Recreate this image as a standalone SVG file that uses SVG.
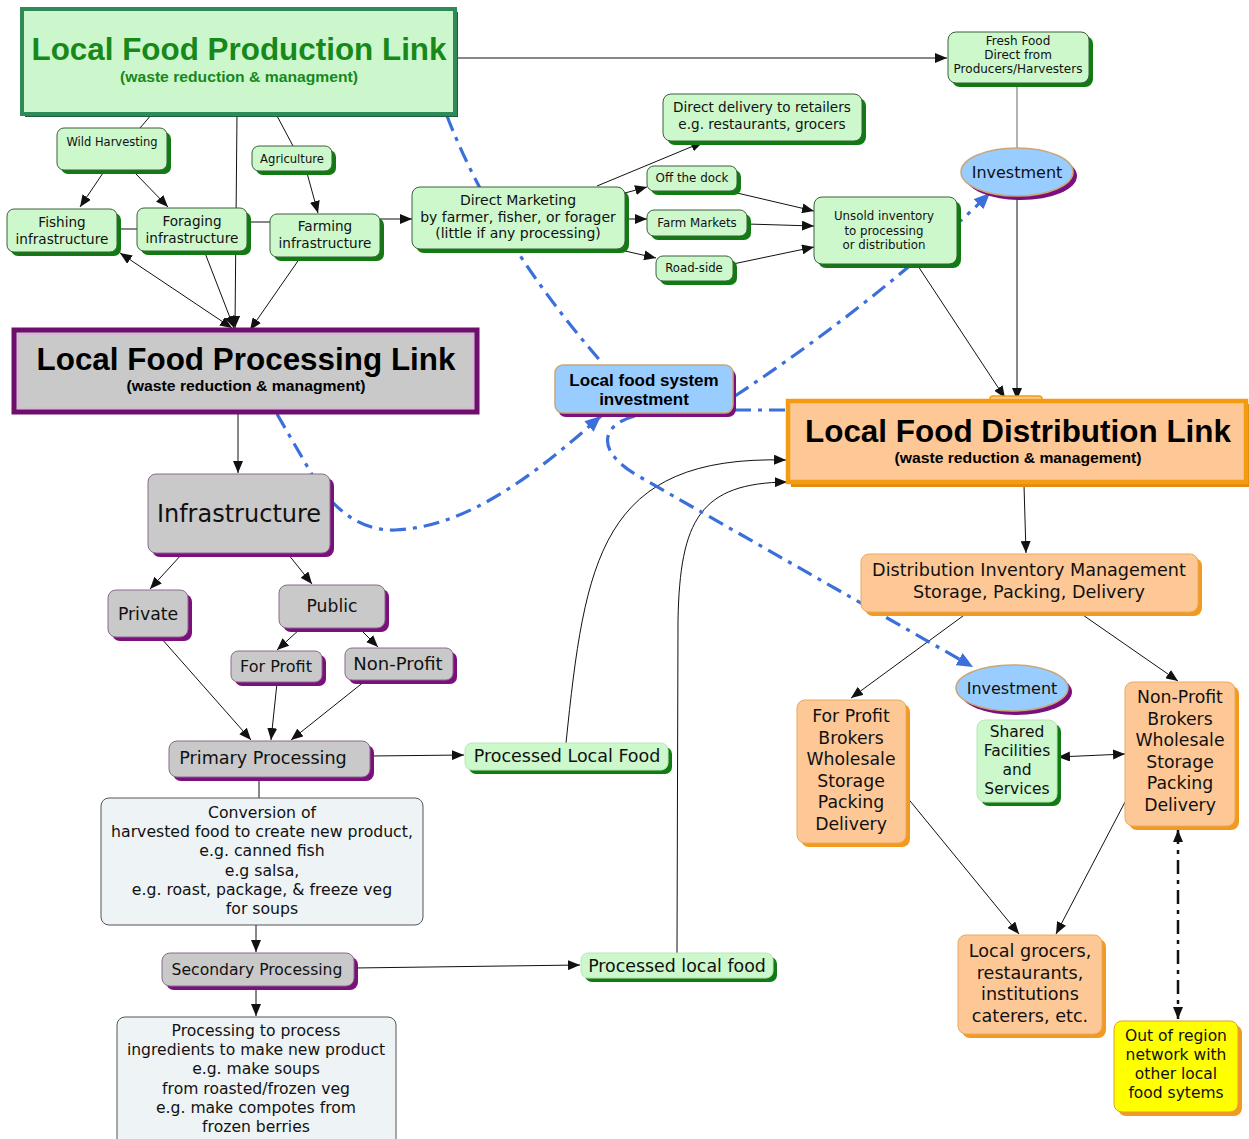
<svg xmlns="http://www.w3.org/2000/svg" width="1249" height="1139" viewBox="0 0 1249 1139">
<defs>
<style>
.sg{fill:#127a12}
.ng{fill:#ccf8cc;stroke:#3d5e3d;stroke-width:1}
.sp{fill:#7b0f7b}
.np{fill:#c9c9c9;stroke:#8a6a8a;stroke-width:1}
.so{fill:#f39a1e}
.no{fill:#fdc896;stroke:#e9a860;stroke-width:1}
.nb{fill:#99ccff;stroke:#c9a777;stroke-width:1.5}
.nc{fill:#eef3f5;stroke:#555;stroke-width:1}
.ny{fill:#ffff00;stroke:#e0a030;stroke-width:1}
.t{font-family:"DejaVu Sans",Verdana,sans-serif;text-anchor:middle;fill:#111}
.h{font-family:"Liberation Sans",Arial,sans-serif;font-weight:bold;text-anchor:middle}
.ln{fill:none;stroke:#111;stroke-width:1}
.bl{fill:none;stroke:#3b6fdc;stroke-width:3.2;stroke-dasharray:16 7 4 7}
.bk{fill:none;stroke:#111;stroke-width:2.5;stroke-dasharray:14 6 4 6}
</style>
<marker id="a" viewBox="0 0 12 10" refX="12" refY="5" markerWidth="12" markerHeight="10" markerUnits="userSpaceOnUse" orient="auto-start-reverse"><path d="M0,0 L12,5 L0,10 z" fill="#111"/></marker>
<marker id="ab" viewBox="0 0 16 14" refX="16" refY="7" markerWidth="16" markerHeight="14" markerUnits="userSpaceOnUse" orient="auto"><path d="M0,0 L16,7 L0,14 z" fill="#3b6fdc"/></marker>
</defs>
<rect width="1249" height="1139" fill="#fff"/>

<g id="connectors">
<path class="ln" d="M455,58 L947,58" marker-end="url(#a)"/>
<path class="ln" d="M1017,83 L1017,148" style="stroke:#666"/>
<path class="ln" d="M1017,196 L1017,400" marker-end="url(#a)"/>
<path class="ln" d="M918,266 L1005,398" marker-end="url(#a)"/>
<path class="ln" d="M152,114 L140,128"/>
<path class="ln" d="M103,173 L80,207" marker-end="url(#a)"/>
<path class="ln" d="M135,173 L168,207" marker-end="url(#a)"/>
<path class="ln" d="M276,114 L293,146"/>
<path class="ln" d="M307,173 L318,213" marker-end="url(#a)"/>
<path class="ln" d="M237,114 L235,328" marker-end="url(#a)"/>
<path class="ln" d="M117,229 L137,229"/>
<path class="ln" d="M247,222 L270,222"/>
<path class="ln" d="M380,219 L412,219" marker-end="url(#a)"/>
<path class="ln" d="M120,253 L232,328" marker-start="url(#a)" marker-end="url(#a)"/>
<path class="ln" d="M205,253 L234,328" marker-end="url(#a)"/>
<path class="ln" d="M300,258 L250,330" marker-end="url(#a)"/>
<path class="ln" d="M597,186 L703,142" marker-end="url(#a)"/>
<path class="ln" d="M625,193 L647,187" marker-end="url(#a)"/>
<path class="ln" d="M625,219 L647,219" marker-end="url(#a)"/>
<path class="ln" d="M625,251 L656,258" marker-end="url(#a)"/>
<path class="ln" d="M737,193 L814,211" marker-end="url(#a)"/>
<path class="ln" d="M747,224 L814,226" marker-end="url(#a)"/>
<path class="ln" d="M733,264 L814,247" marker-end="url(#a)"/>
<path class="ln" d="M238,413 L238,473" marker-end="url(#a)"/>
<path class="ln" d="M182,554 L150,589" marker-end="url(#a)"/>
<path class="ln" d="M288,554 L312,584" marker-end="url(#a)"/>
<path class="ln" d="M300,629 L277,650" marker-end="url(#a)"/>
<path class="ln" d="M360,629 L378,647" marker-end="url(#a)"/>
<path class="ln" d="M161,638 L251,740" marker-end="url(#a)"/>
<path class="ln" d="M277,683 L271,740" marker-end="url(#a)"/>
<path class="ln" d="M365,681 L291,740" marker-end="url(#a)"/>
<path class="ln" d="M370,756 L464,755" marker-end="url(#a)"/>
<path class="ln" d="M259,777 L259,798"/>
<path class="ln" d="M256,925 L256,952" marker-end="url(#a)"/>
<path class="ln" d="M256,988 L256,1016" marker-end="url(#a)"/>
<path class="ln" d="M354,968 L580,965" marker-end="url(#a)"/>
<path class="ln" d="M566,743 C585,560 600,455 786,460" marker-end="url(#a)"/>
<path class="ln" d="M677,953 L678,620 C680,520 700,483 787,482" marker-end="url(#a)"/>
<path class="ln" d="M1024,485 L1026,553" marker-end="url(#a)"/>
<path class="ln" d="M967,613 L851,698" marker-end="url(#a)"/>
<path class="ln" d="M1080,613 L1178,681" marker-end="url(#a)"/>
<path class="ln" d="M1058,757 L1125,754" marker-start="url(#a)" marker-end="url(#a)"/>
<path class="ln" d="M906,796 L1019,934" marker-end="url(#a)"/>
<path class="ln" d="M1125,802 L1056,934" marker-end="url(#a)"/>
<path class="bl" d="M447,116 Q495,240 603,364"/>
<path class="bl" d="M277,414 L318,485 C340,515 365,531 395,530 C470,527 540,470 601,416" marker-end="url(#ab)"/>
<path class="bl" d="M735,396 Q880,300 990,193" marker-end="url(#ab)"/>
<path class="bl" d="M735,410 L788,410"/>
<path class="bl" d="M635,416 C600,425 595,452 640,477 L973,667" marker-end="url(#ab)"/>
<path class="bk" d="M1178,830 L1178,1019" marker-start="url(#a)" marker-end="url(#a)"/>
</g>

<g id="production-link">
<rect x="25" y="12" width="433" height="105" fill="#1d5e3a"/>
<rect x="22" y="9" width="433" height="105" fill="#ccf7cc" stroke="#2e8b57" stroke-width="4"/>
<text class="h" x="239" y="60" font-size="32" fill="#16891a" textLength="415" lengthAdjust="spacingAndGlyphs">Local Food Production Link</text>
<text class="h" x="239" y="82" font-size="14.5" fill="#16891a" textLength="238" lengthAdjust="spacingAndGlyphs">(waste reduction &amp; managment)</text>
</g>
<g id="wild-harvesting"><rect class="sg" x="61" y="132" width="110" height="42" rx="7"/><rect class="ng" x="57" y="128" width="110" height="42" rx="7"/><text class="t" x="112" y="146" font-size="11.5">Wild Harvesting</text></g>
<g id="agriculture"><rect class="sg" x="256" y="150" width="80" height="25" rx="7"/><rect class="ng" x="252" y="146" width="80" height="25" rx="7"/><text class="t" x="292" y="163" font-size="11.6">Agriculture</text></g>
<g id="fishing"><rect class="sg" x="11" y="213" width="110" height="43" rx="7"/><rect class="ng" x="7" y="209" width="110" height="43" rx="7"/><text class="t" x="62" y="227" font-size="13.6">Fishing</text><text class="t" x="62" y="244" font-size="13.6">infrastructure</text></g>
<g id="foraging"><rect class="sg" x="141" y="212" width="110" height="43" rx="7"/><rect class="ng" x="137" y="208" width="110" height="43" rx="7"/><text class="t" x="192" y="226" font-size="13.6">Foraging</text><text class="t" x="192" y="243" font-size="13.6">infrastructure</text></g>
<g id="farming"><rect class="sg" x="274" y="218" width="110" height="43" rx="7"/><rect class="ng" x="270" y="214" width="110" height="43" rx="7"/><text class="t" x="325" y="231" font-size="13.6">Farming</text><text class="t" x="325" y="248" font-size="13.6">infrastructure</text></g>
<g id="direct-marketing"><rect class="sg" x="416" y="191" width="213" height="62" rx="8"/><rect class="ng" x="412" y="187" width="213" height="62" rx="8"/><text class="t" x="518" y="205" font-size="14">Direct Marketing</text><text class="t" x="518" y="222" font-size="14">by farmer, fisher, or forager</text><text class="t" x="518" y="238" font-size="14">(little if any processing)</text></g>
<g id="direct-delivery"><rect class="sg" x="667" y="98" width="199" height="47" rx="8"/><rect class="ng" x="663" y="94" width="199" height="47" rx="8"/><text class="t" x="762" y="112" font-size="13.6">Direct delivery to retailers</text><text class="t" x="762" y="129" font-size="13.6">e.g. restaurants, grocers</text></g>
<g id="off-the-dock"><rect class="sg" x="651" y="170" width="90" height="25" rx="7"/><rect class="ng" x="647" y="166" width="90" height="25" rx="7"/><text class="t" x="692" y="182" font-size="11.9">Off the dock</text></g>
<g id="farm-markets"><rect class="sg" x="651" y="214" width="100" height="26" rx="7"/><rect class="ng" x="647" y="210" width="100" height="26" rx="7"/><text class="t" x="697" y="227" font-size="11.8">Farm Markets</text></g>
<g id="road-side"><rect class="sg" x="660" y="260" width="77" height="25" rx="7"/><rect class="ng" x="656" y="256" width="77" height="25" rx="7"/><text class="t" x="694" y="272" font-size="11.7">Road-side</text></g>
<g id="unsold"><rect class="sg" x="818" y="201" width="143" height="67" rx="8"/><rect class="ng" x="814" y="197" width="143" height="67" rx="8"/><text class="t" x="884" y="220" font-size="11.8">Unsold inventory</text><text class="t" x="884" y="235" font-size="11.8">to processing</text><text class="t" x="884" y="249" font-size="11.8">or distribution</text></g>
<g id="fresh-food"><rect class="sg" x="952" y="36" width="141" height="51" rx="8"/><rect class="ng" x="948" y="32" width="141" height="51" rx="8"/><text class="t" x="1018" y="45" font-size="12">Fresh Food</text><text class="t" x="1018" y="59" font-size="12">Direct from</text><text class="t" x="1018" y="73" font-size="12">Producers/Harvesters</text></g>
<g id="investment-top"><ellipse class="sp" cx="1021" cy="176" rx="56" ry="24"/><ellipse class="nb" cx="1017" cy="172" rx="56" ry="24"/><text class="t" x="1017" y="178" font-size="16">Investment</text></g>

<g id="processing-link">
<rect x="14" y="330" width="463" height="82" fill="#c9c9c9" stroke="#6e0f6e" stroke-width="5"/>
<rect x="18" y="334" width="455" height="74" fill="none" stroke="#e6a8e6" stroke-width="1"/>
<text class="h" x="246" y="370" font-size="31.5" fill="#000" textLength="419" lengthAdjust="spacingAndGlyphs">Local Food Processing Link</text>
<text class="h" x="246" y="391" font-size="14.5" fill="#000" textLength="239" lengthAdjust="spacingAndGlyphs">(waste reduction &amp; managment)</text>
</g>
<g id="infrastructure"><rect class="sp" x="152" y="478" width="182" height="79" rx="8"/><rect class="np" x="148" y="474" width="182" height="79" rx="8"/><text class="t" x="239" y="522" font-size="24">Infrastructure</text></g>
<g id="private"><rect class="sp" x="112" y="594" width="80" height="47" rx="8"/><rect class="np" x="108" y="590" width="80" height="47" rx="8"/><text class="t" x="148" y="620" font-size="17.3">Private</text></g>
<g id="public"><rect class="sp" x="283" y="589" width="106" height="43" rx="8"/><rect class="np" x="279" y="585" width="106" height="43" rx="8"/><text class="t" x="332" y="612" font-size="17.2">Public</text></g>
<g id="for-profit"><rect class="sp" x="235" y="655" width="91" height="31" rx="7"/><rect class="np" x="231" y="651" width="91" height="31" rx="7"/><text class="t" x="276" y="672" font-size="16">For Profit</text></g>
<g id="non-profit"><rect class="sp" x="349" y="652" width="108" height="32" rx="7"/><rect class="np" x="345" y="648" width="108" height="32" rx="7"/><text class="t" x="398" y="670" font-size="18">Non-Profit</text></g>
<g id="primary"><rect class="sp" x="173" y="745" width="201" height="36" rx="8"/><rect class="np" x="169" y="741" width="201" height="36" rx="8"/><text class="t" x="263" y="764" font-size="17.6">Primary Processing</text></g>
<g id="processed-local-food"><rect class="sg" x="469" y="747" width="203" height="27" rx="7"/><rect class="ng" x="465" y="743" width="203" height="27" rx="7" style="stroke:#b8e8b8"/><text class="t" x="567" y="762" font-size="17.5">Processed Local Food</text></g>
<g id="conversion"><rect class="nc" x="101" y="798" width="322" height="127" rx="8"/>
<text class="t" x="262" y="818" font-size="15.7">Conversion of</text>
<text class="t" x="262" y="837" font-size="15.7">harvested food to create new product,</text>
<text class="t" x="262" y="856" font-size="15.7">e.g. canned fish</text>
<text class="t" x="262" y="876" font-size="15.7">e.g salsa,</text>
<text class="t" x="262" y="895" font-size="15.7">e.g. roast, package, &amp; freeze veg</text>
<text class="t" x="262" y="914" font-size="15.7">for soups</text></g>
<g id="secondary"><rect class="sp" x="166" y="957" width="192" height="33" rx="8"/><rect class="np" x="162" y="953" width="192" height="33" rx="8"/><text class="t" x="257" y="975" font-size="15.6">Secondary Processing</text></g>
<g id="processed-local-food-2"><rect class="sg" x="585" y="957" width="192" height="25" rx="7"/><rect class="ng" x="581" y="953" width="192" height="25" rx="7" style="stroke:#b8e8b8"/><text class="t" x="677" y="972" font-size="17.4">Processed local food</text></g>
<g id="processing-box"><rect class="nc" x="117" y="1017" width="279" height="140" rx="8"/>
<text class="t" x="256" y="1036" font-size="15.6">Processing to process</text>
<text class="t" x="256" y="1055" font-size="15.6">ingredients to make new product</text>
<text class="t" x="256" y="1074" font-size="15.6">e.g. make soups</text>
<text class="t" x="256" y="1094" font-size="15.6">from roasted/frozen veg</text>
<text class="t" x="256" y="1113" font-size="15.6">e.g. make compotes from</text>
<text class="t" x="256" y="1132" font-size="15.6">frozen berries</text></g>

<g id="local-food-system-investment"><rect class="sp" x="558" y="369" width="178" height="48" rx="8"/><rect class="nb" x="555" y="365" width="178" height="48" rx="8"/><text class="h" x="644" y="386" font-size="17" fill="#000">Local food system</text><text class="h" x="644" y="405" font-size="17" fill="#000">investment</text></g>

<g id="distribution-link">
<rect x="990" y="396" width="52" height="10" rx="3" fill="#fdc896" stroke="#f39c12" stroke-width="1.5"/>
<rect x="791" y="404" width="460" height="83" fill="#e58a0c"/>
<rect x="788" y="401" width="458" height="81" fill="#fdc896" stroke="#f39c12" stroke-width="4.5"/>
<text class="h" x="1018" y="442" font-size="31.5" fill="#000" textLength="426" lengthAdjust="spacingAndGlyphs">Local Food Distribution Link</text>
<text class="h" x="1018" y="463" font-size="14.5" fill="#000" textLength="247" lengthAdjust="spacingAndGlyphs">(waste reduction &amp; management)</text>
</g>
<g id="distribution-inventory"><rect class="so" x="865" y="558" width="337" height="58" rx="8"/><rect class="no" x="861" y="554" width="337" height="58" rx="8"/><text class="t" x="1029" y="576" font-size="17.6">Distribution Inventory Management</text><text class="t" x="1029" y="598" font-size="17.6">Storage, Packing, Delivery</text></g>
<g id="investment-bottom"><ellipse class="sp" cx="1016" cy="692" rx="56" ry="23"/><ellipse class="nb" cx="1012" cy="688" rx="56" ry="23"/><text class="t" x="1012" y="694" font-size="16">Investment</text></g>
<g id="for-profit-brokers"><rect class="so" x="801" y="704" width="109" height="143" rx="8"/><rect class="no" x="797" y="700" width="109" height="143" rx="8"/>
<text class="t" x="851" y="722" font-size="17.3">For Profit</text>
<text class="t" x="851" y="744" font-size="17.3">Brokers</text>
<text class="t" x="851" y="765" font-size="17.3">Wholesale</text>
<text class="t" x="851" y="787" font-size="17.3">Storage</text>
<text class="t" x="851" y="808" font-size="17.3">Packing</text>
<text class="t" x="851" y="830" font-size="17.3">Delivery</text></g>
<g id="shared-facilities"><rect class="sg" x="981" y="724" width="80" height="82" rx="8"/><rect class="ng" x="977" y="720" width="80" height="82" rx="8" style="stroke:#b8e8b8"/>
<text class="t" x="1017" y="737" font-size="15.5">Shared</text>
<text class="t" x="1017" y="756" font-size="15.5">Facilities</text>
<text class="t" x="1017" y="775" font-size="15.5">and</text>
<text class="t" x="1017" y="794" font-size="15.5">Services</text></g>
<g id="non-profit-brokers"><rect x="1160" y="818" width="42" height="10" rx="4" fill="#127a12"/><rect class="so" x="1129" y="686" width="110" height="144" rx="8"/><rect class="no" x="1125" y="682" width="110" height="144" rx="8"/>
<text class="t" x="1180" y="703" font-size="17.3">Non-Profit</text>
<text class="t" x="1180" y="724.5" font-size="17.3">Brokers</text>
<text class="t" x="1180" y="746" font-size="17.3">Wholesale</text>
<text class="t" x="1180" y="767.5" font-size="17.3">Storage</text>
<text class="t" x="1180" y="789" font-size="17.3">Packing</text>
<text class="t" x="1180" y="810.5" font-size="17.3">Delivery</text></g>
<g id="local-grocers"><rect class="so" x="962" y="939" width="144" height="99" rx="8"/><rect class="no" x="958" y="935" width="144" height="99" rx="8"/>
<text class="t" x="1030" y="957" font-size="17.6">Local grocers,</text>
<text class="t" x="1030" y="978.5" font-size="17.6">restaurants,</text>
<text class="t" x="1030" y="1000" font-size="17.6">institutions</text>
<text class="t" x="1030" y="1021.5" font-size="17.6">caterers, etc.</text></g>
<g id="out-of-region"><rect class="so" x="1118" y="1025" width="124" height="91" rx="8"/><rect class="ny" x="1114" y="1021" width="124" height="91" rx="8"/>
<text class="t" x="1176" y="1040.5" font-size="15.5">Out of region</text>
<text class="t" x="1176" y="1059.5" font-size="15.5">network with</text>
<text class="t" x="1176" y="1078.5" font-size="15.5">other local</text>
<text class="t" x="1176" y="1098" font-size="15.5">food sytems</text></g>
</svg>
